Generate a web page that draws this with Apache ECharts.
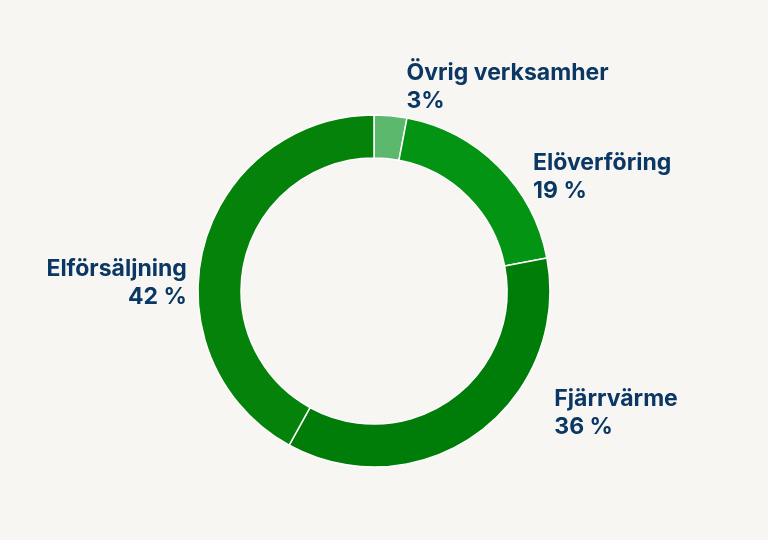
<!DOCTYPE html>
<html>
<head>
<meta charset="utf-8">
<script src="https://cdn.jsdelivr.net/npm/echarts@6/dist/echarts.min.js"></script>
<style>
html,body{margin:0;padding:0;background:#f7f6f3;}
#box{width:768px;height:540px;}
</style>
</head>
<body>
<div id="box"></div>
<script>
var names = ['Övrig verksamher', 'Elöverföring', 'Fjärrvärme', 'Elförsäljning'];
var values = [3, 19, 36, 42];
var valueLabels = ['3%', '19 %', '36 %', '42 %'];
var colors = ['#5cb86c', '#039414', '#007c08', '#058209'];

// nudges for the label blocks, to sit where the original has them
var labelDx = [0, 13, 56, 8];
var labelDy = [-19, 13, -28, 38];

var data = [];
for (var i = 0; i < names.length; i++) {
	data.push({
		name: names[i],
		value: values[i],
		itemStyle: { color: colors[i] }
	});
}

var myChart = echarts.init(document.getElementById('box'));
var option = {
	backgroundColor: '#f7f6f3',
	animation: false,
	series: [{
		type: 'pie',
		center: [374, 291],
		radius: [133, 176],
		startAngle: 90,
		clockwise: true,
		data: data,
		itemStyle: {
			borderColor: '#ffffff',
			borderWidth: 1.5
		},
		label: {
			show: true,
			position: 'outside',
			color: '#0a3763',
			fontFamily: 'Inter',
			fontWeight: 'bold',
			fontSize: 23,
			lineHeight: 28,
			formatter: function (p) {
				return p.name + '\n' + valueLabels[p.dataIndex];
			}
		},
		labelLine: {
			show: false,
			length: 10,
			length2: 10
		},
		labelLayout: function (p) {
			return { dx: labelDx[p.dataIndex], dy: labelDy[p.dataIndex] };
		}
	}]
};
myChart.setOption(option);
</script>
</body>
</html>
